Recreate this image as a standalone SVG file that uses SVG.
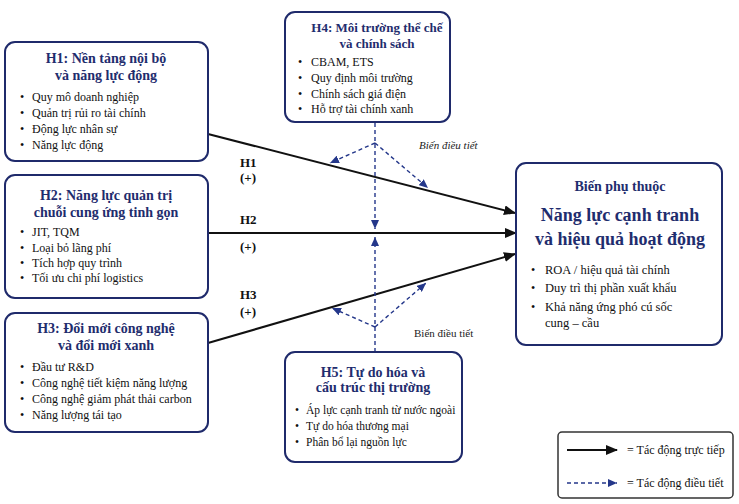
<svg xmlns="http://www.w3.org/2000/svg" width="739" height="504" viewBox="0 0 739 504">
<defs>
<style>
text{font-family:"Liberation Serif","Times New Roman",serif;}
.box{fill:#fff;stroke:#1f2a6b;stroke-width:2;}
.title{font-size:14px;font-weight:bold;fill:#1f2d6e;text-anchor:middle;}
.item{font-size:12px;fill:#111;}
.lab{font-size:13px;font-weight:bold;fill:#111;}
.solid{stroke:#111;stroke-width:2;fill:none;}
.dash{stroke:#24378a;stroke-width:1.4;stroke-dasharray:4,3;fill:none;}
.mod{font-size:11px;fill:#222;}
</style>
<marker id="ah" markerUnits="userSpaceOnUse" markerWidth="12" markerHeight="10" refX="11" refY="5" orient="auto"><path d="M0,0 L12,5 L0,10 z" fill="#111"/></marker>
<marker id="ad" markerUnits="userSpaceOnUse" markerWidth="9" markerHeight="8" refX="9" refY="4" orient="auto"><path d="M0,0 L9,4 L0,8 z" fill="#24378a"/></marker>
</defs>
<rect width="739" height="504" fill="#fff"/>

<g id="connectors">
<line class="solid" x1="208" y1="134" x2="515" y2="213" marker-end="url(#ah)"/>
<line class="solid" x1="208" y1="233" x2="516" y2="233" marker-end="url(#ah)"/>
<line class="solid" x1="208" y1="343" x2="515" y2="254" marker-end="url(#ah)"/>
<line class="dash" x1="375" y1="123" x2="375" y2="229" marker-end="url(#ad)"/>
<line class="dash" x1="375" y1="143" x2="330" y2="163" marker-end="url(#ad)"/>
<line class="dash" x1="375" y1="143" x2="428" y2="188" marker-end="url(#ad)"/>
<line class="dash" x1="375" y1="352" x2="375" y2="237" marker-end="url(#ad)"/>
<line class="dash" x1="375" y1="327" x2="332" y2="308" marker-end="url(#ad)"/>
<line class="dash" x1="375" y1="327" x2="426" y2="283" marker-end="url(#ad)"/>
<text class="lab" x="240" y="167">H1</text>
<text class="lab" x="240" y="182">(+)</text>
<text class="lab" x="240" y="224">H2</text>
<text class="lab" x="240" y="251">(+)</text>
<text class="lab" x="240" y="299">H3</text>
<text class="lab" x="240" y="316">(+)</text>
<text class="mod" x="419" y="149" font-style="italic">Biến điều tiết</text>
<text class="mod" x="414" y="337">Biến điều tiết</text>
</g>

<g id="h1">
<rect class="box" x="5" y="42" width="203" height="119" rx="10"/>
<text class="title" x="106" y="63">H1: Nền tảng nội bộ</text>
<text class="title" x="106" y="80">và năng lực động</text>
<text class="item" x="20" y="101">•</text><text class="item" x="32" y="101">Quy mô doanh nghiệp</text>
<text class="item" x="20" y="117">•</text><text class="item" x="32" y="117">Quản trị rủi ro tài chính</text>
<text class="item" x="20" y="133">•</text><text class="item" x="32" y="133">Động lực nhân sự</text>
<text class="item" x="20" y="149">•</text><text class="item" x="32" y="149">Năng lực động</text>
</g>

<g id="h2">
<rect class="box" x="5" y="175" width="203" height="123" rx="10"/>
<text class="title" x="106" y="200">H2: Năng lực quản trị</text>
<text class="title" x="106" y="217">chuỗi cung ứng tinh gọn</text>
<text class="item" x="20" y="236">•</text><text class="item" x="32" y="236">JIT, TQM</text>
<text class="item" x="20" y="252">•</text><text class="item" x="32" y="252">Loại bỏ lãng phí</text>
<text class="item" x="20" y="267">•</text><text class="item" x="32" y="267">Tích hợp quy trình</text>
<text class="item" x="20" y="282">•</text><text class="item" x="32" y="282">Tối ưu chi phí logistics</text>
</g>

<g id="h3">
<rect class="box" x="5" y="313" width="203" height="119" rx="10"/>
<text class="title" x="106" y="333">H3: Đổi mới công nghệ</text>
<text class="title" x="106" y="350">và đổi mới xanh</text>
<text class="item" x="20" y="371">•</text><text class="item" x="32" y="371">Đầu tư R&amp;D</text>
<text class="item" x="20" y="387">•</text><text class="item" x="32" y="387">Công nghệ tiết kiệm năng lượng</text>
<text class="item" x="20" y="403">•</text><text class="item" x="32" y="403">Công nghệ giảm phát thải carbon</text>
<text class="item" x="20" y="419">•</text><text class="item" x="32" y="419">Năng lượng tái tạo</text>
</g>

<g id="h4">
<rect class="box" x="285" y="12" width="165" height="110" rx="10"/>
<text class="title" x="377" y="32" style="font-size:13px">H4: Môi trường thể chế</text>
<text class="title" x="377" y="48" style="font-size:13px">và chính sách</text>
<text class="item" x="298" y="66">•</text><text class="item" x="311" y="66">CBAM, ETS</text>
<text class="item" x="298" y="82">•</text><text class="item" x="311" y="82">Quy định môi trường</text>
<text class="item" x="298" y="98">•</text><text class="item" x="311" y="98">Chính sách giá điện</text>
<text class="item" x="298" y="113">•</text><text class="item" x="311" y="113">Hỗ trợ tài chính xanh</text>
</g>

<g id="h5">
<rect class="box" x="285" y="352" width="177" height="110" rx="10"/>
<text class="title" x="373" y="377">H5: Tự do hóa và</text>
<text class="title" x="373" y="392">cấu trúc thị trường</text>
<text class="item" x="295" y="414" style="font-size:11.5px">•</text><text class="item" x="306" y="414" style="font-size:11.5px">Áp lực cạnh tranh từ nước ngoài</text>
<text class="item" x="295" y="430" style="font-size:11.5px">•</text><text class="item" x="306" y="430" style="font-size:11.5px">Tự do hóa thương mại</text>
<text class="item" x="295" y="446" style="font-size:11.5px">•</text><text class="item" x="306" y="446" style="font-size:11.5px">Phân bổ lại nguồn lực</text>
</g>

<g id="dependent">
<rect class="box" x="516" y="163" width="206" height="182" rx="10"/>
<text x="620" y="191" font-size="14" font-weight="bold" fill="#1f2d6e" text-anchor="middle">Biến phụ thuộc</text>
<text x="620" y="221" font-size="18" font-weight="bold" fill="#1f2d6e" text-anchor="middle">Năng lực cạnh tranh</text>
<text x="620" y="245" font-size="18" font-weight="bold" fill="#1f2d6e" text-anchor="middle">và hiệu quả hoạt động</text>
<text class="item" x="531" y="274">•</text><text class="item" x="545" y="274" style="font-size:12.5px">ROA / hiệu quả tài chính</text>
<text class="item" x="531" y="292">•</text><text class="item" x="545" y="292" style="font-size:12.5px">Duy trì thị phần xuất khẩu</text>
<text class="item" x="531" y="311">•</text><text class="item" x="545" y="311" style="font-size:12.5px">Khả năng ứng phó cú sốc</text>
<text class="item" x="545" y="327" style="font-size:12.5px">cung – cầu</text>
</g>

<g id="legend">
<rect x="558" y="432" width="175" height="66" rx="4" fill="#fff" stroke="#333" stroke-width="1.5"/>
<line class="solid" x1="567" y1="450" x2="617" y2="450" marker-end="url(#ah)"/>
<text class="item" x="627" y="454" font-size="11">= Tác động trực tiếp</text>
<line class="dash" x1="567" y1="483" x2="617" y2="483" stroke-width="1.8" marker-end="url(#ad)"/>
<text class="item" x="627" y="487" font-size="11">= Tác động điều tiết</text>
</g>
</svg>
